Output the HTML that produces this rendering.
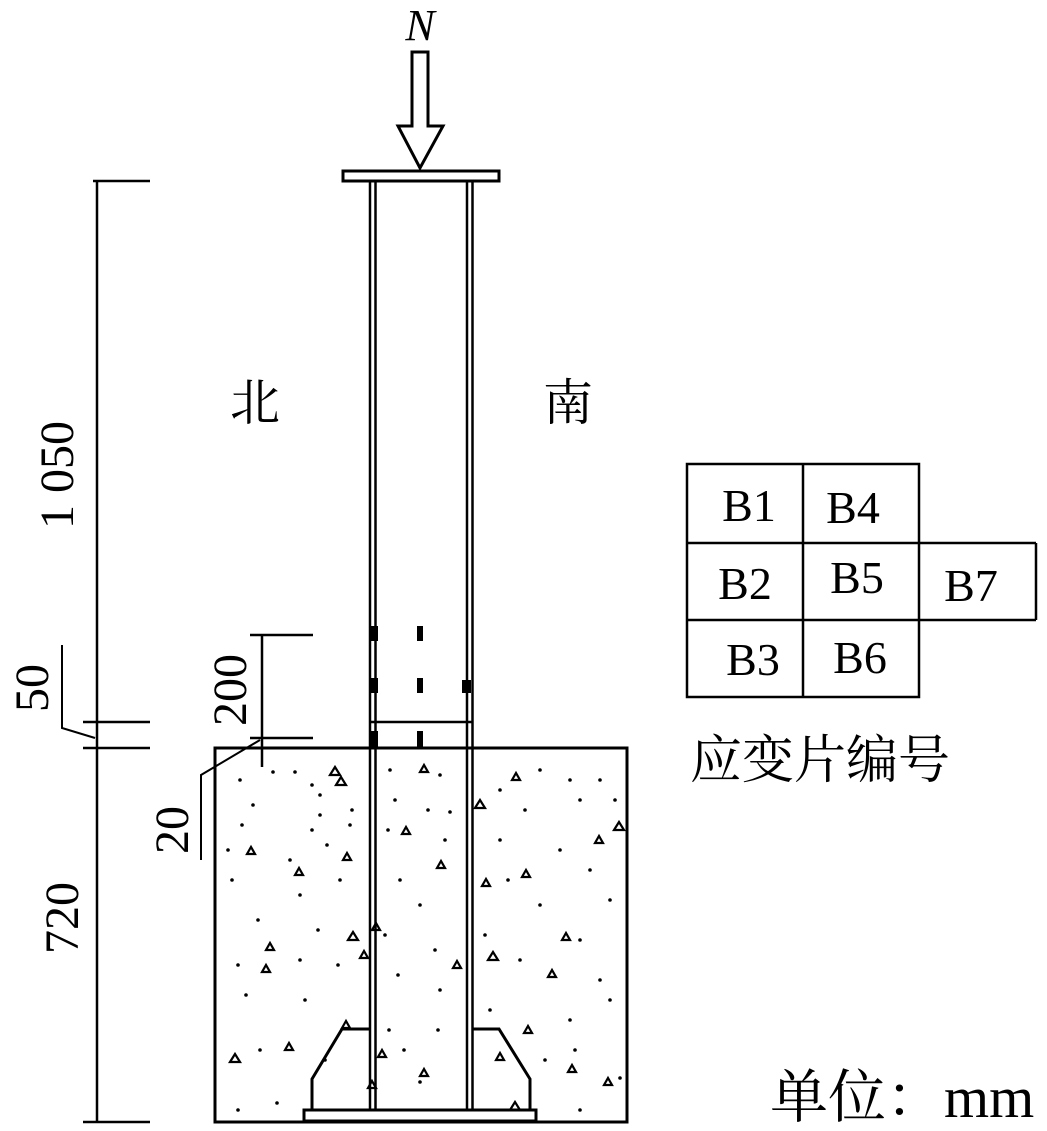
<!DOCTYPE html>
<html><head><meta charset="utf-8"><style>
html,body{margin:0;padding:0;background:#fff;}
svg{display:block;}
text{font-family:"Liberation Serif","Noto Serif CJK SC",serif;fill:#000;}
</style></head><body>
<svg width="1047" height="1131" viewBox="0 0 1047 1131" xmlns="http://www.w3.org/2000/svg">
<g stroke="#000" fill="none" stroke-width="3">
<path d="M412,52 H428 V126 H443 L420,168 L398,126 H412 Z" stroke-width="3"/>
<rect x="343" y="171" width="156" height="10"/>
<line x1="370" y1="181" x2="370" y2="1110" stroke-width="2.5"/>
<line x1="375.5" y1="181" x2="375.5" y2="1110" stroke-width="2.5"/>
<line x1="467" y1="181" x2="467" y2="1110" stroke-width="2.5"/>
<line x1="472.5" y1="181" x2="472.5" y2="1110" stroke-width="2.5"/>
<line x1="370" y1="722" x2="473" y2="722" stroke-width="2.5"/>
<rect x="215" y="748" width="412" height="374"/>
<rect x="304" y="1110" width="232" height="11"/>
<path d="M370,1029 H342 L312,1079 V1110"/>
<path d="M473,1029 H499 L530,1079 V1110"/>
<line x1="97" y1="181" x2="97" y2="1122" stroke-width="2.5"/>
<line x1="93" y1="181" x2="150" y2="181" stroke-width="2.5"/>
<line x1="83" y1="722" x2="150" y2="722" stroke-width="2.5"/>
<line x1="83" y1="748" x2="150" y2="748" stroke-width="2.5"/>
<line x1="83" y1="1122" x2="150" y2="1122" stroke-width="2.5"/>
<path d="M62,645 V728 L95,738" stroke-width="2"/>
<line x1="262" y1="635" x2="262" y2="767" stroke-width="2.5"/>
<line x1="250" y1="635" x2="313" y2="635" stroke-width="2.5"/>
<line x1="250" y1="738" x2="313" y2="738" stroke-width="2.5"/>
<path d="M201,860 V775 L260,740" stroke-width="2"/>
<rect x="687" y="464" width="232" height="233" stroke-width="2.5"/>
<line x1="803" y1="464" x2="803" y2="697" stroke-width="2.5"/>
<line x1="687" y1="543" x2="1036" y2="543" stroke-width="2.5"/>
<line x1="687" y1="620" x2="1036" y2="620" stroke-width="2.5"/>
<line x1="1036" y1="543" x2="1036" y2="620" stroke-width="2.5"/>
</g>
<g fill="#000">
<rect x="369" y="626" width="9" height="15"/>
<rect x="369" y="678" width="9" height="15"/>
<rect x="369" y="731" width="9" height="16"/>
<rect x="417" y="626" width="6" height="15"/>
<rect x="417" y="678" width="6" height="15"/>
<rect x="417" y="731" width="6" height="16"/>
<rect x="462" y="680" width="9" height="13"/>
</g>
<g fill="#000">
<circle cx="240" cy="780" r="1.8"/><circle cx="273" cy="772" r="1.8"/><circle cx="295" cy="772" r="1.8"/><circle cx="312" cy="785" r="1.8"/><circle cx="253" cy="805" r="1.8"/><circle cx="320" cy="795" r="1.8"/><circle cx="242" cy="825" r="1.8"/><circle cx="320" cy="815" r="1.8"/><circle cx="352" cy="810" r="1.8"/><circle cx="312" cy="830" r="1.8"/><circle cx="350" cy="825" r="1.8"/><circle cx="228" cy="850" r="1.8"/><circle cx="290" cy="860" r="1.8"/><circle cx="327" cy="845" r="1.8"/><circle cx="232" cy="880" r="1.8"/><circle cx="300" cy="895" r="1.8"/><circle cx="340" cy="880" r="1.8"/><circle cx="258" cy="920" r="1.8"/><circle cx="318" cy="930" r="1.8"/><circle cx="238" cy="965" r="1.8"/><circle cx="300" cy="960" r="1.8"/><circle cx="338" cy="965" r="1.8"/><circle cx="246" cy="995" r="1.8"/><circle cx="305" cy="1000" r="1.8"/><circle cx="260" cy="1050" r="1.8"/><circle cx="325" cy="1060" r="1.8"/><circle cx="238" cy="1110" r="1.8"/><circle cx="277" cy="1103" r="1.8"/>
<circle cx="390" cy="770" r="1.8"/><circle cx="440" cy="775" r="1.8"/><circle cx="395" cy="800" r="1.8"/><circle cx="428" cy="810" r="1.8"/><circle cx="450" cy="812" r="1.8"/><circle cx="388" cy="830" r="1.8"/><circle cx="445" cy="840" r="1.8"/><circle cx="400" cy="880" r="1.8"/><circle cx="420" cy="905" r="1.8"/><circle cx="385" cy="935" r="1.8"/><circle cx="435" cy="950" r="1.8"/><circle cx="398" cy="975" r="1.8"/><circle cx="440" cy="990" r="1.8"/><circle cx="389" cy="1030" r="1.8"/><circle cx="438" cy="1030" r="1.8"/><circle cx="404" cy="1050" r="1.8"/><circle cx="420" cy="1082" r="1.8"/>
<circle cx="500" cy="790" r="1.8"/><circle cx="540" cy="770" r="1.8"/><circle cx="570" cy="780" r="1.8"/><circle cx="600" cy="780" r="1.8"/><circle cx="525" cy="810" r="1.8"/><circle cx="580" cy="800" r="1.8"/><circle cx="615" cy="800" r="1.8"/><circle cx="500" cy="840" r="1.8"/><circle cx="560" cy="850" r="1.8"/><circle cx="590" cy="870" r="1.8"/><circle cx="508" cy="880" r="1.8"/><circle cx="540" cy="905" r="1.8"/><circle cx="610" cy="900" r="1.8"/><circle cx="485" cy="935" r="1.8"/><circle cx="580" cy="940" r="1.8"/><circle cx="520" cy="960" r="1.8"/><circle cx="600" cy="980" r="1.8"/><circle cx="490" cy="1010" r="1.8"/><circle cx="570" cy="1020" r="1.8"/><circle cx="610" cy="1000" r="1.8"/><circle cx="545" cy="1060" r="1.8"/><circle cx="575" cy="1050" r="1.8"/><circle cx="620" cy="1078" r="1.8"/><circle cx="580" cy="1110" r="1.8"/>
</g>
<g fill="none" stroke="#000" stroke-width="2.2">
<path d="M330,775 l5,-8 l5,8 z"/><path d="M336,785 l5,-8 l5,8 z"/><path d="M420,772 l4,-7 l4,7 z"/><path d="M475,808 l5,-8 l5,8 z"/><path d="M512,780 l4,-7 l4,7 z"/><path d="M614,830 l5,-8 l5,8 z"/><path d="M595,843 l4,-7 l4,7 z"/><path d="M402,834 l4,-7 l4,7 z"/><path d="M437,868 l4,-7 l4,7 z"/><path d="M482,886 l4,-7 l4,7 z"/><path d="M522,877 l4,-7 l4,7 z"/><path d="M247,854 l4,-7 l4,7 z"/><path d="M295,875 l4,-7 l4,7 z"/><path d="M343,860 l4,-7 l4,7 z"/><path d="M348,940 l5,-8 l5,8 z"/><path d="M372,930 l4,-7 l4,7 z"/><path d="M488,960 l5,-8 l5,8 z"/><path d="M562,940 l4,-7 l4,7 z"/><path d="M266,950 l4,-7 l4,7 z"/><path d="M262,972 l4,-7 l4,7 z"/><path d="M360,958 l4,-7 l4,7 z"/><path d="M453,968 l4,-7 l4,7 z"/><path d="M548,977 l4,-7 l4,7 z"/><path d="M230,1062 l5,-8 l5,8 z"/><path d="M285,1050 l4,-7 l4,7 z"/><path d="M378,1057 l4,-7 l4,7 z"/><path d="M420,1076 l4,-7 l4,7 z"/><path d="M496,1060 l4,-7 l4,7 z"/><path d="M568,1072 l4,-7 l4,7 z"/><path d="M604,1085 l4,-7 l4,7 z"/><path d="M368,1088 l4,-7 l4,7 z"/><path d="M510,1110 l5,-8 l5,8 z"/><path d="M342,1028 l4,-7 l4,7 z"/><path d="M524,1033 l4,-7 l4,7 z"/>
</g>
<text x="420" y="40" font-size="44" font-style="italic" text-anchor="middle">N</text>
<text x="255" y="420" font-size="50" text-anchor="middle">北</text>
<text x="568" y="420" font-size="50" text-anchor="middle">南</text>
<text transform="translate(73,475) rotate(-90)" font-size="48" text-anchor="middle">1 050</text>
<text transform="translate(78,918) rotate(-90)" font-size="48" text-anchor="middle">720</text>
<text transform="translate(48,688) rotate(-90)" font-size="48" text-anchor="middle">50</text>
<text transform="translate(246,690) rotate(-90)" font-size="48" text-anchor="middle">200</text>
<text transform="translate(188,830) rotate(-90)" font-size="48" text-anchor="middle">20</text>
<text x="749" y="521" font-size="46" text-anchor="middle">B1</text>
<text x="853" y="523" font-size="46" text-anchor="middle">B4</text>
<text x="745" y="599" font-size="46" text-anchor="middle">B2</text>
<text x="857" y="593" font-size="46" text-anchor="middle">B5</text>
<text x="971" y="601" font-size="46" text-anchor="middle">B7</text>
<text x="753" y="675" font-size="46" text-anchor="middle">B3</text>
<text x="860" y="673" font-size="46" text-anchor="middle">B6</text>
<text x="690" y="778" font-size="52">应变片编号</text>
<text x="770" y="1117" font-size="58">单位：mm</text>
</svg>
</body></html>
